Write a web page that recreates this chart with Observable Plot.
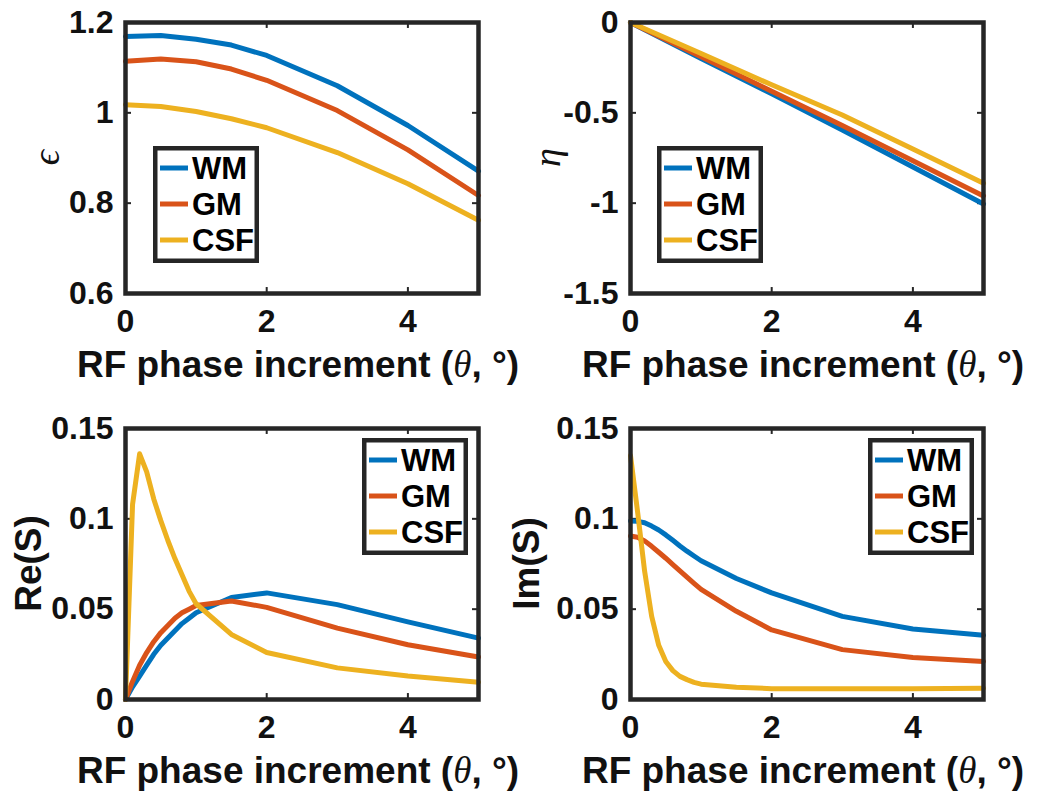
<!DOCTYPE html>
<html><head><meta charset="utf-8">
<script src="https://cdn.jsdelivr.net/npm/d3@7"></script>
<script src="https://cdn.jsdelivr.net/npm/@observablehq/plot@0.6"></script>
<style>
html,body{margin:0;padding:0;background:#fff;overflow:hidden;width:1050px;height:803px}
#root{position:relative;width:1050px;height:803px}
.panel{position:absolute;width:525px;height:395px}
.panel svg{position:absolute;left:0;top:0;overflow:visible}
</style>
</head><body><div id="root"></div>
<script>
// ---- data ----
const seriesNames = ["WM", "GM", "CSF"];
const seriesColors = ["#0072BD", "#D95319", "#EDB120"];
const xTicks = [0, 2, 4];

// epsilon
const xEps = [0, 0.5, 1, 1.5, 2, 3, 4, 5];
const epsWM  = [1.169, 1.171, 1.163, 1.150, 1.127, 1.060, 0.972, 0.871];
const epsGM  = [1.114, 1.119, 1.113, 1.097, 1.072, 1.005, 0.918, 0.817];
const epsCSF = [1.018, 1.014, 1.003, 0.987, 0.967, 0.912, 0.843, 0.762];
const epsTicks = [0.6, 0.8, 1, 1.2];

// eta
const xEta = [0, 1, 2, 3, 4, 5];
const etaWM  = [0, -0.200, -0.395, -0.595, -0.800, -1.005];
const etaGM  = [0, -0.190, -0.380, -0.570, -0.765, -0.960];
const etaCSF = [0, -0.172, -0.345, -0.512, -0.700, -0.890];
const etaTicks = [-1.5, -1, -0.5, 0];

// signal
const xS = [0, 0.1, 0.2, 0.3, 0.4, 0.5, 0.6, 0.7, 0.8, 0.9, 1, 1.5, 2, 3, 4, 5];
const reWM  = [0, 0.007, 0.013, 0.019, 0.025, 0.030, 0.034, 0.038, 0.042, 0.045, 0.048, 0.0565, 0.059, 0.0525, 0.043, 0.034];
const reGM  = [0, 0.010, 0.019, 0.026, 0.032, 0.037, 0.041, 0.045, 0.048, 0.050, 0.052, 0.0545, 0.051, 0.0395, 0.0303, 0.0235];
const reCSF = [0, 0.108, 0.136, 0.126, 0.111, 0.099, 0.088, 0.078, 0.069, 0.060, 0.053, 0.036, 0.026, 0.0175, 0.013, 0.0096];
const imWM  = [0.0988, 0.0986, 0.0978, 0.0960, 0.0938, 0.0911, 0.0881, 0.0850, 0.0821, 0.0794, 0.0768, 0.0670, 0.0590, 0.046, 0.039, 0.0355];
const imGM  = [0.0905, 0.0898, 0.0878, 0.0848, 0.0815, 0.0782, 0.0747, 0.0712, 0.0677, 0.0643, 0.0610, 0.0488, 0.0385, 0.0276, 0.0233, 0.0211];
const imCSF = [0.135, 0.104, 0.071, 0.046, 0.030, 0.021, 0.016, 0.0128, 0.011, 0.0095, 0.0085, 0.0068, 0.006, 0.006, 0.006, 0.0062];
const sTicks = [0, 0.05, 0.1, 0.15];

const xLabel = ["RF phase increment (", "θ", ", °)"];

// ---- drawing ----
const FRAME = "#262626";
const SANS = "'Liberation Sans', Arial, Helvetica, sans-serif";
const SERIF = "'Liberation Serif', 'DejaVu Serif', 'Times New Roman', serif";

function makePanel({left, top, xs, ys, yDomain, yTicks, ylab, legend}) {
  const xDomain = [0, 5];
  const yr = yDomain[1] - yDomain[0];
  const tl = yr * 0.022, tx = 5 * 0.017;
  const lines = ys.map((vals, i) => Plot.line(xs.map((x, j) => ({x, y: vals[j]})),
    {x: "x", y: "y", stroke: seriesColors[i], strokeWidth: 5, strokeLinejoin: "round"}));
  const rule = {stroke: FRAME, strokeWidth: 2};
  const chart = Plot.plot({
    width: 525, height: 395,
    marginLeft: 125, marginRight: 47, marginTop: 22, marginBottom: 102,
    style: {fontFamily: SANS, fontSize: "32px", fontWeight: "bold", color: "#111", background: "transparent"},
    x: {domain: xDomain},
    y: {domain: yDomain},
    marks: [
      Plot.ruleX(xTicks, {x: d => d, y1: () => yDomain[0], y2: () => yDomain[0] + tl, ...rule}),
      Plot.ruleX(xTicks, {x: d => d, y1: () => yDomain[1], y2: () => yDomain[1] - tl, ...rule}),
      Plot.ruleY(yTicks, {y: d => d, x1: () => xDomain[0], x2: () => xDomain[0] + tx, ...rule}),
      Plot.ruleY(yTicks, {y: d => d, x1: () => xDomain[1], x2: () => xDomain[1] - tx, ...rule}),
      ...lines,
      Plot.frame({stroke: FRAME, strokeWidth: 4.5}),
      Plot.axisX(xTicks, {tickSize: 0, tickPadding: 16, label: null, tickFormat: d => String(d)}),
      Plot.axisY(yTicks, {tickSize: 0, tickPadding: 12, label: null, tickFormat: d => String(d)})
    ]
  });
  const div = document.createElement("div");
  div.className = "panel";
  div.style.left = left + "px";
  div.style.top = top + "px";
  div.appendChild(chart);
  document.getElementById("root").appendChild(div);

  const svg = d3.select(chart);
  // x label
  const t = svg.append("text").attr("x", 298).attr("y", 377).attr("text-anchor", "middle")
    .attr("fill", "#111").style("font-family", SANS).style("font-size", "37px").style("font-weight", "bold");
  t.append("tspan").text(xLabel[0]);
  t.append("tspan").text(xLabel[1]).style("font-family", SERIF).style("font-style", "italic").style("font-weight", "normal");
  t.append("tspan").text(xLabel[2]);
  // y label
  const yl = svg.append("text").attr("transform", `translate(${ylab.x},157.5) rotate(-90)`)
    .attr("text-anchor", "middle").attr("dy", "0.35em").attr("fill", "#111").text(ylab.text);
  if (ylab.math) yl.style("font-family", SERIF).style("font-style", "italic").style("font-weight", "normal").style("font-size", "38px");
  else yl.style("font-family", SANS).style("font-weight", "bold").style("font-size", "37px");
  // legend
  const g = svg.append("g").attr("transform", `translate(${legend.x},${legend.y})`);
  g.append("rect").attr("x", 2.25).attr("y", 2.25).attr("width", 101.5).attr("height", 112.5)
    .attr("fill", "#fff").attr("stroke", FRAME).attr("stroke-width", 4.5);
  seriesNames.forEach((name, i) => {
    const cy = 22 + i * 36;
    g.append("line").attr("x1", 7).attr("x2", 35).attr("y1", cy).attr("y2", cy)
      .attr("stroke", seriesColors[i]).attr("stroke-width", 5);
    g.append("text").attr("x", 39).attr("y", cy + 11).attr("fill", "#000").attr("text-anchor", "start")
      .style("font-family", SANS).style("font-weight", "bold").style("font-size", "31px").text(name);
  });
}

makePanel({left: 0, top: 0, xs: xEps, ys: [epsWM, epsGM, epsCSF], yDomain: [0.6, 1.2], yTicks: epsTicks,
  ylab: {x: 46, text: "ϵ", math: true}, legend: {x: 153, y: 146}});
makePanel({left: 505, top: 0, xs: xEta, ys: [etaWM, etaGM, etaCSF], yDomain: [-1.5, 0], yTicks: etaTicks,
  ylab: {x: 42, text: "η", math: true}, legend: {x: 152, y: 146}});
makePanel({left: 0, top: 406, xs: xS, ys: [reWM, reGM, reCSF], yDomain: [0, 0.15], yTicks: sTicks,
  ylab: {x: 28, text: "Re(S)", math: false}, legend: {x: 362, y: 32}});
makePanel({left: 505, top: 406, xs: xS, ys: [imWM, imGM, imCSF], yDomain: [0, 0.15], yTicks: sTicks,
  ylab: {x: 21, text: "Im(S)", math: false}, legend: {x: 363, y: 32}});
</script>
</body></html>
